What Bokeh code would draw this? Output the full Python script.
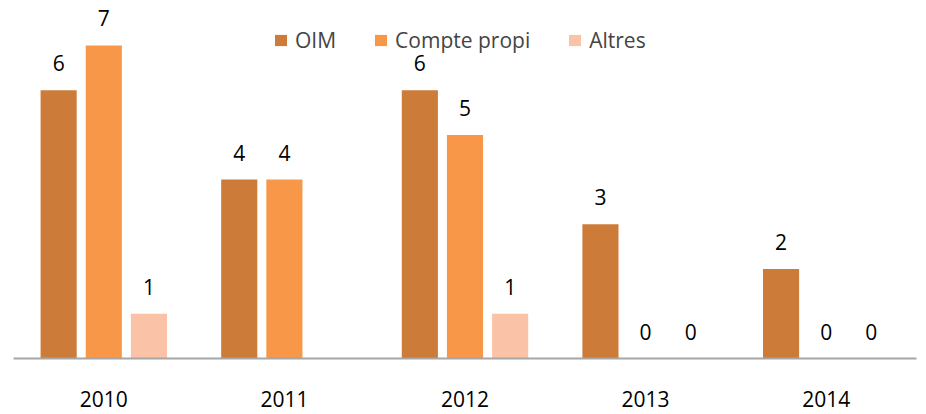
import math
from bokeh.plotting import figure
from bokeh.models import ColumnDataSource, Legend, LegendItem, Range1d, FactorRange
from bokeh.transform import dodge
from bokeh.core.properties import value
from bokeh.embed import file_html
from bokeh.resources import INLINE

years = ["2010", "2011", "2012", "2013", "2014"]
series_names = ["OIM", "Compte propi", "Altres"]
oim = [6, 4, 6, 3, 2]
compte_propi = [7, 4, 5, 0, 0]
altres = [1, None, 1, 0, 0]

colors = ["#CD7B39", "#F79747", "#FAC3A7"]
offsets = [-0.25, 0.0, 0.25]
FONT = "Open Sans"

p = figure(x_range=FactorRange(*years, range_padding=0), y_range=Range1d(0, 7.96),
           width=918, height=414, output_backend="svg", toolbar_location=None,
           min_border_left=13, min_border_right=2, min_border_top=2, min_border_bottom=56)

legend_items = []
for name, vals, col, off in zip(series_names, [oim, compte_propi, altres], colors, offsets):
    xs = [y for y, v in zip(years, vals) if v is not None]
    vs = [v for v in vals if v is not None]
    src = ColumnDataSource(dict(x=xs, top=vs, lab=[str(v) for v in vs]))
    r = p.vbar(x=dodge("x", off, range=p.x_range), top="top", width=0.2, source=src,
               fill_color=col, line_color=None)
    p.text(x=dodge("x", off, range=p.x_range), y="top", text="lab", source=src,
           text_align="center", text_baseline="middle", y_offset=-27,
           text_font=value(FONT), text_font_size="21px", text_color="#000000")
    legend_items.append(LegendItem(label=name, renderers=[r]))

legend = Legend(items=legend_items, orientation="horizontal", location=(260, 304),
                padding=0, margin=0, spacing=37, label_standoff=7,
                glyph_width=15, glyph_height=14, label_height=20,
                label_text_font=FONT, label_text_font_size="21px",
                border_line_color=None, background_fill_alpha=0)
p.add_layout(legend, "center")

p.yaxis.visible = False
p.xgrid.visible = False
p.ygrid.visible = False
p.outline_line_color = None
p.xaxis.axis_line_color = "#A6A6A6"
p.xaxis.axis_line_width = 2
p.xaxis.major_tick_line_color = None
p.xaxis.minor_tick_line_color = None
p.xaxis.major_label_standoff = 26
p.xaxis.major_label_text_font = FONT
p.xaxis.major_label_text_font_size = "21px"
p.xaxis.major_label_text_color = "#000000"

open("out.html", "w").write(file_html(p, INLINE))
